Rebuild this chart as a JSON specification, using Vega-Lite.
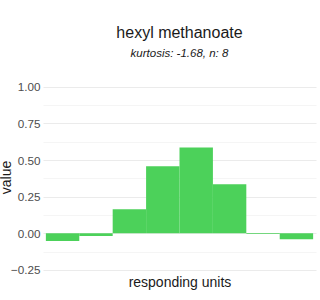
{
  "$schema": "https://vega.github.io/schema/vega-lite/v6.json",
  "autosize": "none",
  "width": 273,
  "height": 194,
  "padding": {"left": 43, "top": 80, "right": 4, "bottom": 26},
  "background": "white",
  "title": {
    "text": "hexyl methanoate",
    "subtitle": "kurtosis: -1.68, n: 8",
    "anchor": "middle",
    "font": "Liberation Sans",
    "fontSize": 16,
    "fontWeight": "normal",
    "color": "#1a1a1a",
    "subtitleFont": "Liberation Sans",
    "subtitleFontSize": 11.5,
    "subtitleFontStyle": "italic",
    "subtitleColor": "#1a1a1a",
    "subtitlePadding": 7,
    "offset": 21
  },
  "data": {
    "values": [
      {"unit": 1, "value": -0.052},
      {"unit": 2, "value": -0.018},
      {"unit": 3, "value": 0.164},
      {"unit": 4, "value": 0.457},
      {"unit": 5, "value": 0.586},
      {"unit": 6, "value": 0.334},
      {"unit": 7, "value": -0.004},
      {"unit": 8, "value": -0.041}
    ]
  },
  "config": {
    "view": {"stroke": null},
    "axis": {"domain": false, "ticks": false}
  },
  "mark": {"type": "bar", "color": "#4CD15A"},
  "encoding": {
    "x": {
      "field": "unit",
      "type": "ordinal",
      "scale": {"paddingInner": 0, "paddingOuter": 0.086},
      "axis": {
        "title": "responding units",
        "labels": false,
        "grid": false,
        "titleFont": "Liberation Sans",
        "titleFontSize": 14,
        "titleFontWeight": "normal",
        "titleColor": "#1a1a1a",
        "titlePadding": 1
      }
    },
    "y": {
      "field": "value",
      "type": "quantitative",
      "scale": {"domain": [-0.2773, 1.0457], "nice": false, "zero": false},
      "axis": {
        "title": "value",
        "values": [-0.25, -0.125, 0, 0.125, 0.25, 0.375, 0.5, 0.625, 0.75, 0.875, 1],
        "labelExpr": "abs(datum.value * 4 - round(datum.value * 4)) < 0.001 ? format(datum.value, '.2f') : ''",
        "grid": true,
        "gridColor": {"condition": {"test": "abs(datum.value * 4 - round(datum.value * 4)) < 0.001", "value": "#ebebeb"}, "value": "#f5f5f5"},
        "gridWidth": 1,
        "labelFont": "Liberation Sans",
        "labelFontSize": 11.7,
        "labelColor": "#4d4d4d",
        "labelPadding": 3,
        "titleFont": "Liberation Sans",
        "titleFontSize": 14,
        "titleFontWeight": "normal",
        "titleColor": "#1a1a1a",
        "titleAngle": -90,
        "titleBaseline": "bottom",
        "titleAlign": "center",
        "titleX": -30,
        "titleY": 97
      }
    }
  }
}
